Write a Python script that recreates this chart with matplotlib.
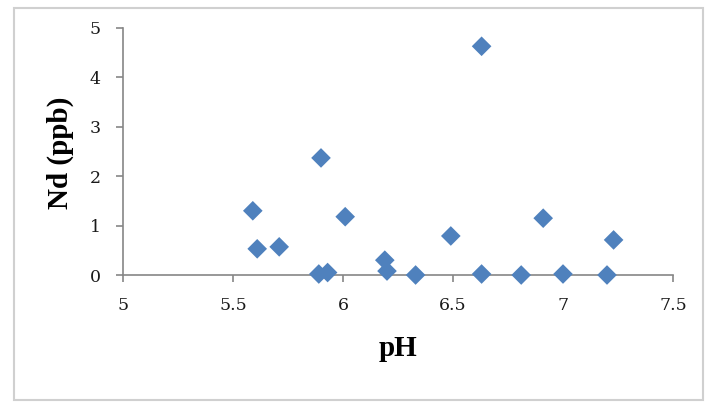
import matplotlib
matplotlib.use("Agg")
import matplotlib.pyplot as plt
from matplotlib.patches import Rectangle

# Nd concentration against pH
ph = [5.59, 5.61, 5.71, 5.90, 5.89, 5.93, 6.01, 6.19, 6.20, 6.33,
      6.63, 6.49, 6.63, 6.81, 6.91, 7.00, 7.20, 7.23]
nd = [1.30, 0.53, 0.57, 2.37, 0.02, 0.05, 1.18, 0.30, 0.08, 0.00,
      4.63, 0.79, 0.02, 0.00, 1.15, 0.02, 0.00, 0.71]

x_ticks = [5, 5.5, 6, 6.5, 7, 7.5]
x_tick_labels = ["5", "5.5", "6", "6.5", "7", "7.5"]
y_ticks = [0, 1, 2, 3, 4, 5]

W, H = 706, 404
fig = plt.figure(figsize=(W / 100, H / 100), dpi=100)
fig.patch.set_facecolor("white")

# light frame around the chart area
fig.patches.append(Rectangle((14 / W, 1 - 400 / H), (703 - 14) / W, (400 - 8) / H,
                             transform=fig.transFigure, fill=False,
                             edgecolor="#d0d0d0", linewidth=1.5))

ax = fig.add_axes([123 / W, 1 - 275 / H, (673 - 123) / W, (275 - 28) / H])
ax.scatter(ph, nd, marker="D", s=100, color="#4F81BD", edgecolors="none",
           zorder=3, clip_on=False)

ax.set_xlim(5, 7.5)
ax.set_ylim(0, 5)
ax.set_xticks(x_ticks)
ax.set_xticklabels(x_tick_labels)
ax.set_yticks(y_ticks)

tick_font = ["DejaVu Serif"]
label_font = ["Liberation Serif", "DejaVu Serif"]
for sp in ["top", "right"]:
    ax.spines[sp].set_visible(False)
for sp in ["left", "bottom"]:
    ax.spines[sp].set_color("#868686")
    ax.spines[sp].set_linewidth(1.2)
ax.tick_params(axis="both", direction="out", length=5, width=1.2,
               color="#868686", labelsize=12.5, pad=11, labelcolor="#1a1a1a")
for lab in ax.get_xticklabels() + ax.get_yticklabels():
    lab.set_family(tick_font)

fig.text(60 / W, 1 - 153 / H, "Nd (ppb)", rotation=90, ha="center", va="center",
         fontsize=21, fontweight="bold", family=label_font)
fig.text(398 / W, 1 - 348 / H, "pH", ha="center", va="center",
         fontsize=21, fontweight="bold", family=label_font)

fig.savefig("out.png", dpi=100)
